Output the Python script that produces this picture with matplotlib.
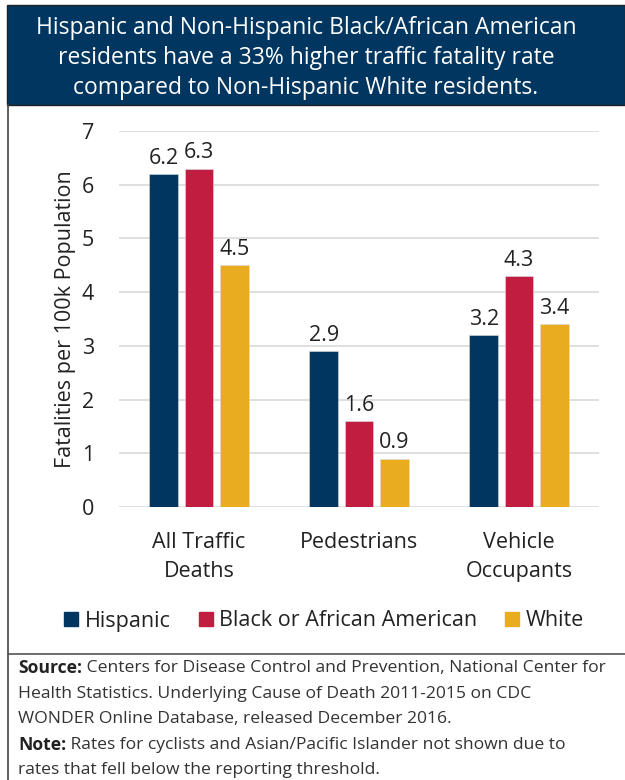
import matplotlib
matplotlib.use("Agg")
import matplotlib.pyplot as plt
from matplotlib.patches import Rectangle
from matplotlib.lines import Line2D
import numpy as np

categories = ["All Traffic\nDeaths", "Pedestrians", "Vehicle\nOccupants"]
series_names = ["Hispanic", "Black or African American", "White"]
hispanic = [6.2, 2.9, 3.2]
black = [6.3, 1.6, 4.3]
white = [4.5, 0.9, 3.4]
yticks = [0, 1, 2, 3, 4, 5, 6, 7]
colors = ["#00365F", "#C01D40", "#E9AC21"]

title = ("Hispanic and Non-Hispanic Black/African American\n"
         "residents have a 33% higher traffic fatality rate\n"
         "compared to Non-Hispanic White residents.")

FONT = "Open Sans"
W, H = 625, 780
fig = plt.figure(figsize=(W / 100, H / 100), dpi=100)
fig.patch.set_facecolor("white")

def fx(px):
    return px / W

def fy(py):
    return 1 - py / H

# title box
fig.patches.append(Rectangle((fx(7), fy(105)), fx(625) - fx(7), fy(5) - fy(105),
                             transform=fig.transFigure, facecolor="#00365F",
                             edgecolor="#222222", lw=1, zorder=0))
fig.text(fx(306), fy(58), title, ha="center", va="center", color="white",
         fontsize=16.5, family=FONT, linespacing=1.36, weight="medium")

# borders
fig.lines.append(Line2D([fx(8), fx(8)], [fy(105), fy(780)], transform=fig.transFigure,
                        color="#444444", lw=1.2))
fig.lines.append(Line2D([fx(8), fx(625)], [fy(654), fy(654)], transform=fig.transFigure,
                        color="#555555", lw=1.2))

ax = fig.add_axes([fx(119), fy(507), fx(599) - fx(119), fy(131) - fy(507)])
x = np.arange(len(categories))
pitch = 0.22
width = 0.18
data = [hispanic, black, white]
for i, (vals, c, name) in enumerate(zip(data, colors, series_names)):
    bars = ax.bar(x + (i - 1) * pitch, vals, width, color=c, label=name, zorder=3,
                  edgecolor="#dddddd", linewidth=0.4)
    for b, v in zip(bars, vals):
        ax.text(b.get_x() + b.get_width() / 2, v + 0.1, f"{v:.1f}", ha="center",
                va="bottom", fontsize=15.5, family=FONT, color="#222222")

ax.set_xlim(-0.5, 2.5)
ax.set_ylim(0, 7)
ax.set_yticks(yticks)
ax.set_yticklabels([str(t) for t in yticks], family=FONT, fontsize=15.5, color="#222222")
ax.set_xticks(x)
ax.set_xticklabels(categories, family=FONT, fontsize=15.5, color="#222222", linespacing=1.5)
ax.tick_params(axis="both", length=0)
ax.tick_params(axis="y", pad=18)
ax.tick_params(axis="x", pad=18)
ax.grid(axis="y", color="#d9d9d9", lw=1.2, zorder=0)
for s in ax.spines.values():
    s.set_visible(False)
ax.set_ylabel("Fatalities per 100k Population", family=FONT, fontsize=15.5,
              color="#222222", labelpad=4)

handles = [Rectangle((0, 0), 1, 1, color=c) for c in colors]
fig.legend(handles, series_names, loc="center", bbox_to_anchor=(fx(324), fy(621)),
           ncol=3, frameon=False, prop={"family": FONT, "size": 15.5},
           handlelength=0.65, handleheight=0.65, handletextpad=0.3, columnspacing=1.3,
           labelcolor="#222222")

# source text
lines = [
    ("Source:", " Centers for Disease Control and Prevention, National Center for"),
    ("", "Health Statistics. Underlying Cause of Death 2011-2015 on CDC"),
    ("", "WONDER Online Database, released December 2016."),
    ("Note:", " Rates for cyclists and Asian/Pacific Islander not shown due to"),
    ("", "rates that fell below the reporting threshold."),
]
ys = [668, 694, 719, 745, 770]
renderer = fig.canvas.get_renderer()
for (b, t), yy in zip(lines, ys):
    xpos = fx(18)
    if b:
        tb = fig.text(xpos, fy(yy), b, ha="left", va="center", fontsize=12.6,
                      family=FONT, weight="bold", color="#222222")
        bb = tb.get_window_extent(renderer)
        xpos = bb.x1 / (W)
    fig.text(xpos, fy(yy), t, ha="left", va="center", fontsize=12.6,
             family=FONT, color="#333333")

fig.savefig("out.png", dpi=100)
